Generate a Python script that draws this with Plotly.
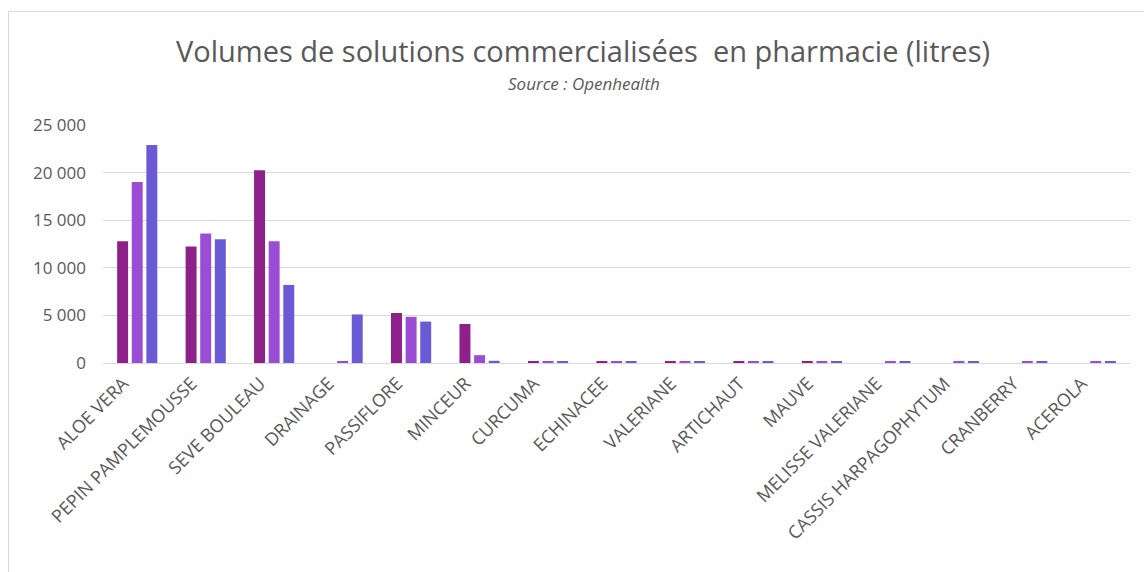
import plotly.graph_objects as go

categories = ["ALOE VERA", "PEPIN PAMPLEMOUSSE", "SEVE BOULEAU", "DRAINAGE", "PASSIFLORE",
              "MINCEUR", "CURCUMA", "ECHINACEE", "VALERIANE", "ARTICHAUT", "MAUVE",
              "MELISSE VALERIANE", "CASSIS HARPAGOPHYTUM", "CRANBERRY", "ACEROLA"]
series1 = [12800, 12250, 20250, 0, 5250, 4100, 180, 170, 160, 170, 160, 0, 0, 0, 0]
series2 = [19000, 13600, 12800, 180, 4850, 820, 150, 150, 150, 150, 150, 150, 150, 160, 150]
series3 = [22900, 13000, 8200, 5100, 4350, 230, 150, 150, 150, 150, 150, 150, 150, 160, 150]
series_names = ["Série 1", "Série 2", "Série 3"]
colors = ["#8E2089", "#9A4CD4", "#6B5AD6"]

W, H = 1144, 572
L, R, T, B = 103, 14, 125, 209
pw, ph = W - L - R, H - T - B

def px_x(x):
    return (x - L) / pw

def px_y(y):
    return (H - B - y) / ph

fig = go.Figure()
for name, vals, c in zip(series_names, [series1, series2, series3], colors):
    fig.add_trace(go.Bar(x=categories, y=vals, name=name, marker_color=c,
                         marker_line_width=0))

grey = "#595959"
fig.update_layout(
    width=W, height=H,
    margin=dict(l=L, r=R, t=T, b=B, autoexpand=False),
    paper_bgcolor="white", plot_bgcolor="white",
    barmode="group", bargap=0.36, bargroupgap=0.25,
    showlegend=False,
    separators=", ",
    font=dict(family="Open Sans, Lato, sans-serif", color=grey),
    title=dict(text="Volumes de solutions commercialisées  en pharmacie (litres)",
               x=px_x(583), xref="paper", xanchor="center",
               y=1 - 52 / H, yanchor="middle",
               font=dict(size=29, color=grey, family="Open Sans, sans-serif")),
    annotations=[dict(text="<i>Source : Openhealth</i>", xref="paper", yref="paper",
                      x=px_x(584), y=px_y(84), xanchor="center", yanchor="middle",
                      showarrow=False, font=dict(size=17, color=grey))],
    shapes=[
        dict(type="line", xref="paper", yref="paper", x0=px_x(8), x1=px_x(1150),
             y0=px_y(11.5), y1=px_y(11.5), line=dict(color="#D9D9D9", width=1)),
        dict(type="line", xref="paper", yref="paper", x0=px_x(8.5), x1=px_x(8.5),
             y0=px_y(11), y1=px_y(580), line=dict(color="#D9D9D9", width=1)),
    ],
)
fig.update_xaxes(tickangle=-45, tickfont=dict(size=18, color=grey),
                 showline=True, linecolor="#D9D9D9", linewidth=1, ticks="",
                 showgrid=False, ticklabelshift=-14, ticklabelstandoff=2)
fig.update_yaxes(range=[0, 25000], tickvals=[0, 5000, 10000, 15000, 20000, 25000],
                 tickformat=",d", tickfont=dict(size=17, color=grey),
                 showgrid=True, gridcolor="#D9D9D9", gridwidth=1, zeroline=False,
                 ticklabelstandoff=16)
fig.write_html("out.html", config={"displayModeBar": False},
               post_script="document.body.style.margin='0';")
